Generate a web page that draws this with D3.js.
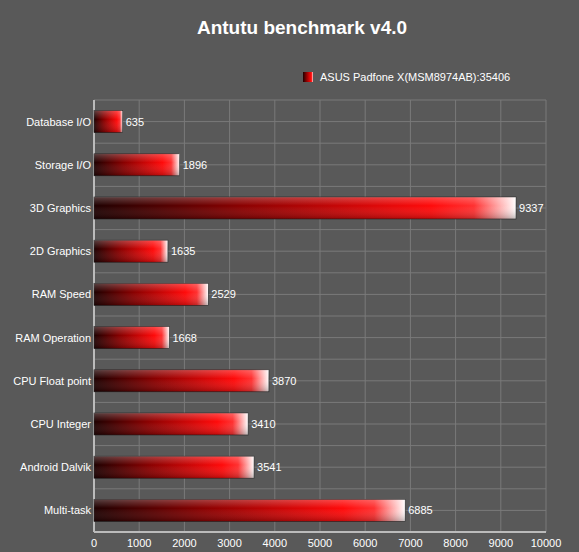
<!DOCTYPE html><html><head><meta charset="utf-8"><script src="https://cdn.jsdelivr.net/npm/d3@7"></script>
<style>body{margin:0;background:#595959}</style></head><body><svg id="c" width="579" height="552"></svg>
<script>
const categories=["Database I/O","Storage I/O","3D Graphics","2D Graphics","RAM Speed","RAM Operation","CPU Float point","CPU Integer","Android Dalvik","Multi-task"];
const values=[635,1896,9337,1635,2529,1668,3870,3410,3541,6885];
const ticks=[0,1000,2000,3000,4000,5000,6000,7000,8000,9000,10000];
const svg=d3.select("#c");
svg.append("rect").attr("width",579).attr("height",552).attr("fill","#595959");
const m={l:94,r:546,t:100,b:532};
const x=d3.scaleLinear().domain([0,10000]).range([m.l,m.r]);
const y=d3.scaleBand().domain(categories).range([m.t,m.b]);
const defs=svg.append("defs");
const g=defs.append("linearGradient").attr("id","gr");
[[0,"#1e0000"],[0.35,"#8a0000"],[0.8,"#ff0a0a"],[0.9,"#ff3030"],[1,"#ffffff"]].forEach(s=>g.append("stop").attr("offset",s[0]).attr("stop-color",s[1]));
const gv=defs.append("linearGradient").attr("id","gv").attr("x1",0).attr("x2",0).attr("y1",0).attr("y2",1);
[[0,"rgba(255,255,255,0.25)"],[0.4,"rgba(255,255,255,0)"],[1,"rgba(0,0,0,0.25)"]].forEach(s=>gv.append("stop").attr("offset",s[0]).attr("stop-color",s[1]));
svg.append("g").selectAll("line").data(ticks).join("line").attr("x1",d=>x(d)).attr("x2",d=>x(d)).attr("y1",m.t).attr("y2",m.b).attr("stroke","#7a7a7a");
svg.append("g").selectAll("line").data(d3.range(categories.length*2+1)).join("line").attr("x1",m.l).attr("x2",m.r).attr("y1",i=>m.t+i*y.step()/2).attr("y2",i=>m.t+i*y.step()/2).attr("stroke","#7a7a7a");
svg.append("line").attr("x1",m.l).attr("x2",m.l).attr("y1",m.t).attr("y2",m.b).attr("stroke","#bbb").attr("stroke-width",2);
svg.append("line").attr("x1",m.l).attr("x2",m.r).attr("y1",m.b).attr("y2",m.b).attr("stroke","#bbb").attr("stroke-width",2);
const bh=22;
const bars=svg.append("g").selectAll("g").data(categories).join("g");
bars.append("rect").attr("x",m.l).attr("y",d=>y(d)+y.bandwidth()/2-bh/2).attr("width",(d,i)=>x(values[i])-m.l).attr("height",bh).attr("fill","url(#gr)").attr("stroke","#222").attr("stroke-width",0.6);
bars.append("rect").attr("x",m.l).attr("y",d=>y(d)+y.bandwidth()/2-bh/2).attr("width",(d,i)=>x(values[i])-m.l).attr("height",bh).attr("fill","url(#gv)");
bars.append("text").attr("x",(d,i)=>x(values[i])+3).attr("y",d=>y(d)+y.bandwidth()/2+4).text((d,i)=>values[i]).attr("fill","#fff").attr("font-family","Liberation Sans, Arial").attr("font-size",11);
svg.append("g").selectAll("text").data(categories).join("text").attr("x",m.l-3).attr("y",d=>y(d)+y.bandwidth()/2+4).attr("text-anchor","end").text(d=>d).attr("fill","#fff").attr("font-family","Liberation Sans, Arial").attr("font-size",11);
svg.append("g").selectAll("text").data(ticks).join("text").attr("x",d=>x(d)).attr("y",m.b+15).attr("text-anchor","middle").text(d=>d).attr("fill","#fff").attr("font-family","Liberation Sans, Arial").attr("font-size",11);
svg.append("text").attr("x",302).attr("y",34).attr("text-anchor","middle").text("Antutu benchmark v4.0").attr("fill","#fff").attr("font-family","Liberation Sans, Arial").attr("font-weight","bold").attr("font-size",19);
svg.append("rect").attr("x",303).attr("y",72).attr("width",10).attr("height",10).attr("fill","url(#gr)");
svg.append("text").attr("x",320).attr("y",81).text("ASUS Padfone X(MSM8974AB):35406").attr("fill","#fff").attr("font-family","Liberation Sans, Arial").attr("font-size",11);
</script></body></html>
